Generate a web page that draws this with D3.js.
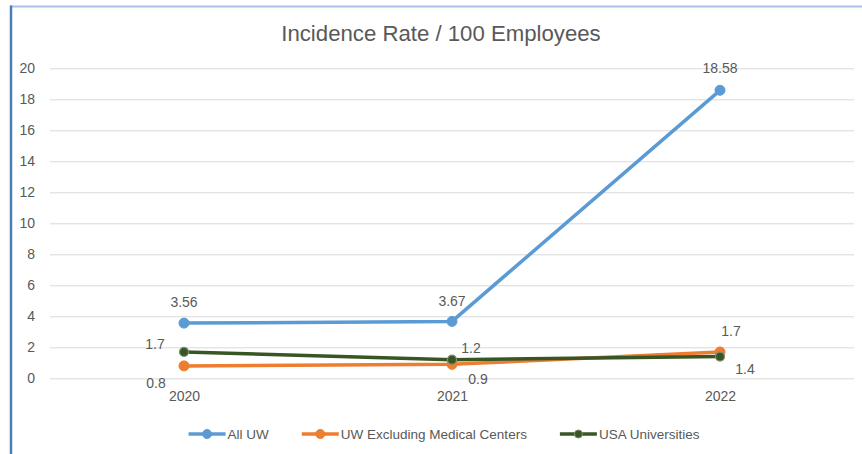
<!DOCTYPE html>
<html>
<head>
<meta charset="utf-8">
<script src="https://cdn.jsdelivr.net/npm/d3@7"></script>
<style>
  html, body { margin: 0; padding: 0; background: #ffffff; }
  svg { display: block; }
  text { font-family: "Liberation Sans", Arial, sans-serif; fill: #595959; }
</style>
</head>
<body>
<svg id="chart" width="862" height="454"></svg>
<script>
// ---- data ----
const years = ["2020", "2021", "2022"];
const allUW = [3.56, 3.67, 18.58];
const uwExclMed = [0.8, 0.9, 1.7];
const usaUniv = [1.7, 1.2, 1.4];
const yTicks = [0, 2, 4, 6, 8, 10, 12, 14, 16, 18, 20];
const seriesNames = ["All UW", "UW Excluding Medical Centers", "USA Universities"];
const chartTitle = "Incidence Rate / 100 Employees";

// ---- styling / label placement ----
const colors = ["#5b9bd5", "#ed7d31", "#375623"];
const labelOffsets = [
  [[0, -21], [0, -20], [0, -22]],
  [[-28, 17], [26, 15], [11, -21]],
  [[-29, -8], [19, -12], [25, 12]]
];

const svg = d3.select("#chart");
const W = 862, H = 454;
const plot = { left: 50, right: 854, top: 68.3, bottom: 378.3 };

const x = d3.scalePoint().domain(years).range([plot.left, plot.right]).padding(0.5);
const y = d3.scaleLinear().domain([0, 20]).range([plot.bottom, plot.top]);

// frame
svg.append("line").attr("x1", 10).attr("x2", W).attr("y1", 6.5).attr("y2", 6.5)
  .attr("stroke", "#a9c2e6").attr("stroke-width", 2);
svg.append("line").attr("x1", 11).attr("x2", 11).attr("y1", 5.5).attr("y2", H)
  .attr("stroke", "#4a7ebb").attr("stroke-width", 2.5);

// title
svg.append("text").attr("x", 441).attr("y", 33).attr("dy", "0.35em")
  .attr("text-anchor", "middle").style("font-size", "22.2px").text(chartTitle);

// gridlines + y axis
const yAxis = d3.axisLeft(y).tickValues(yTicks).tickSize(-(plot.right - plot.left)).tickPadding(15);
const gy = svg.append("g").attr("transform", `translate(${plot.left},0)`).call(yAxis);
gy.select(".domain").remove();
gy.selectAll(".tick line").attr("stroke", "#d9d9d9").attr("stroke-width", 1);
gy.selectAll(".tick text").style("font-size", "14px").attr("fill", "#595959")
  .style("font-family", "'Liberation Sans', Arial, sans-serif");

// x axis labels
const xAxis = d3.axisBottom(x).tickSize(0).tickPadding(0);
const gx = svg.append("g").attr("transform", `translate(0,${plot.bottom + 13})`).call(xAxis);
gx.select(".domain").remove();
gx.selectAll(".tick text").style("font-size", "14px").attr("fill", "#595959")
  .style("font-family", "'Liberation Sans', Arial, sans-serif");

// series
const allSeries = [allUW, uwExclMed, usaUniv];
const line = d3.line().x((d, i) => x(years[i])).y(d => y(d));

allSeries.forEach((vals, si) => {
  const g = svg.append("g");
  g.append("path").datum(vals).attr("d", line).attr("fill", "none")
    .attr("stroke", colors[si]).attr("stroke-width", 3.5)
    .attr("stroke-linejoin", "round").attr("stroke-linecap", "round");
  g.selectAll("circle").data(vals).join("circle")
    .attr("cx", (d, i) => x(years[i])).attr("cy", d => y(d))
    .attr("r", si === 2 ? 4.5 : 5)
    .attr("fill", colors[si])
    .attr("stroke", si === 2 ? "#7f8f78" : colors[si])
    .attr("stroke-width", si === 2 ? 1.2 : 1);
});

// data labels (drawn after lines)
allSeries.forEach((vals, si) => {
  svg.append("g").selectAll("text").data(vals).join("text")
    .attr("x", (d, i) => x(years[i]) + labelOffsets[si][i][0])
    .attr("y", (d, i) => y(d) + labelOffsets[si][i][1])
    .attr("dy", "0.35em").attr("text-anchor", "middle")
    .style("font-size", "14px").text(d => String(d));
});

// legend
const legend = svg.append("g");
const lineLen = 37, txtGap = 2, itemGap = 33, legY = 434;
const items = seriesNames.map((name, i) => {
  const t = legend.append("text").attr("y", legY).attr("dy", "0.35em")
    .style("font-size", "13.5px").text(name);
  return { t, w: t.node().getComputedTextLength(), i };
});
const total = d3.sum(items, d => lineLen + txtGap + d.w) + itemGap * (items.length - 1);
let cx = 444 - total / 2;
items.forEach(it => {
  legend.append("line").attr("x1", cx).attr("x2", cx + lineLen).attr("y1", legY).attr("y2", legY)
    .attr("stroke", colors[it.i]).attr("stroke-width", 3.5);
  legend.append("circle").attr("cx", cx + lineLen / 2).attr("cy", legY)
    .attr("r", it.i === 2 ? 4 : 4.5).attr("fill", colors[it.i])
    .attr("stroke", it.i === 2 ? "#7f8f78" : colors[it.i]).attr("stroke-width", 1);
  it.t.attr("x", cx + lineLen + txtGap);
  cx += lineLen + txtGap + it.w + itemGap;
});
</script>
</body>
</html>
